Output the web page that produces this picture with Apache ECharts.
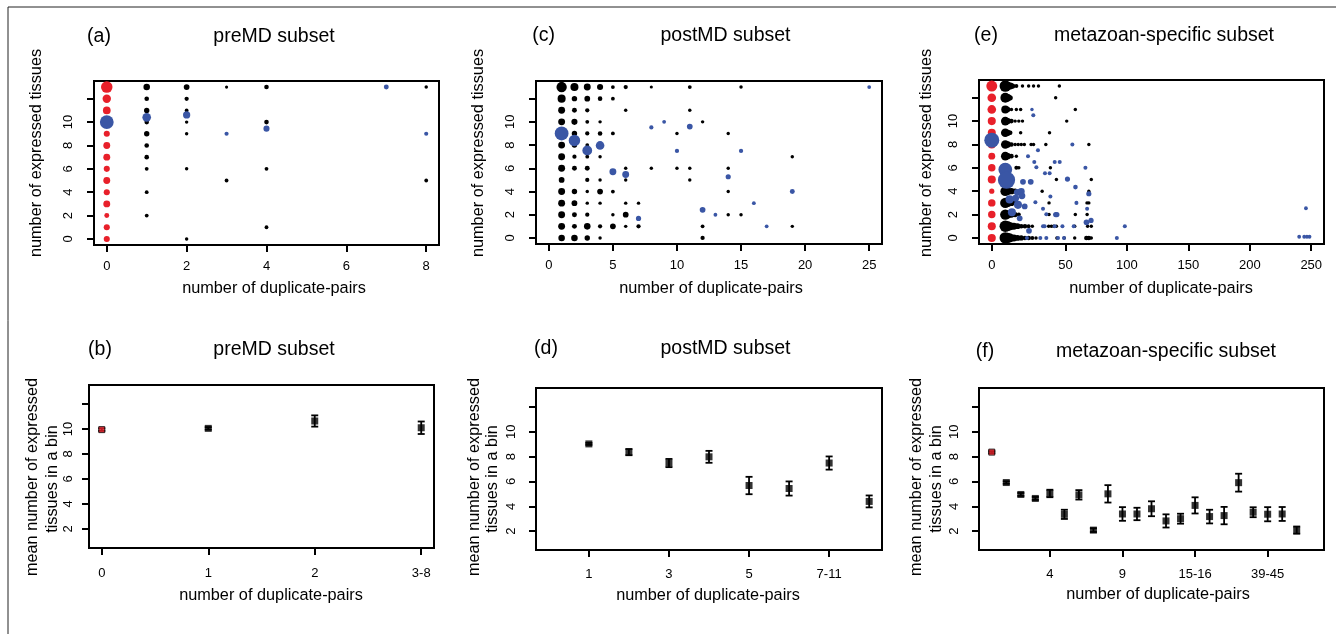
<!DOCTYPE html>
<html>
<head>
<meta charset="utf-8">
<title>number of duplicate-pairs vs expressed tissues</title>
<script src="https://cdn.jsdelivr.net/npm/echarts@6/dist/echarts.min.js"></script>
<style>
html, body { margin: 0; padding: 0; background: #fff; }
#el { width: 1336px; height: 634px; }
</style>
</head>
<body>
<div id="el"></div>
<script>
// ---------- data ----------
// top row: [duplicate-pairs, expressed tissues, dot weight]
// (a) preMD subset
const aRed = [[0,0,5.3],[0,1,5.3],[0,2,4.3],[0,3,6],[0,4,5.3],[0,5,6],[0,6,5.3],[0,7,6],[0,8,6],[0,9,5.3],[0,10,7],[0,11,6.7],[0,12,7.3],[0,13,10]];
const aBlack = [
    [1,13,5.7],[1,12,4],[1,11,4.7],[1,10,4],[1,9,4.7],[1,8,4],[1,7,4],[1,6,3.3],[1,4,3.3],[1,2,3.3],
    [2,13,5],[2,12,3.7],[2,11,3.3],[2,10,3],[2,9,3],[2,6,3],[2,0,3],
    [3,13,2.7],[3,5,3.3],
    [4,13,4],[4,10,4],[4,6,3.3],[4,1,3.3],
    [8,13,3],[8,5,3.3]
];
const aBlue = [[0,10,12],[1,10.41,7.5],[2,10.61,6.3],[3,9,3.6],[4,9.44,5.3],[7,13,4.3],[8,9,3.6]];

// (c) postMD subset
const cBlack = [
    [1,13,9],[1,12,7],[1,11,6],[1,10,6],[1,9,6],[1,8,6],[1,7,6],[1,6,6],[1,5,5],[1,4,6],[1,3,6],[1,2,6],[1,1,6],[1,0,5.7],
    [2,13,7],[2,12,4.7],[2,11,4.3],[2,10,5.3],[2,9,4.7],[2,8,4.7],[2,7,3.7],[2,6,4.3],[2,4,4.7],[2,3,5],[2,2,4.3],[2,1,4.3],[2,0,5.7],
    [3,13,6],[3,12,5],[3,11,3.7],[3,10,3.3],[3,9,3.7],[3,8,3.3],[3,7,3.3],[3,6,4.3],[3,5,3.7],[3,4,3],[3,3,3],[3,2,3.7],[3,1,5.7],[3,0,4.7],
    [4,13,5.3],[4,12,4],[4,10,3],[4,9,4],[4,7,3],[4,5,3],[4,4,5],[4,3,3],[4,1,3.7],[4,0,3],
    [5,13,3.3],[5,12,3.3],[5,9,3.3],[5,4,3.3],[5,2,3],[5,1,5],
    [6,13,3.7],[6,11,3],[6,6,3],[6,5,3],[6,3,3],[6,2,5],[6,1,3],
    [7,3,3],[7,1,3.7],[8,13,2.7],[8,6,3],[10,9,3],[10,6,3],
    [11,13,3.3],[11,11,3],[11,6,3],[11,5,3],[12,10,3],[12,1,3.3],[12,0,3.7],
    [14,9,3],[14,6,3],[14,4,3],[14,2,3],[15,13,3],[15,2,3],[19,7,3],[19,1,3]
];
const cBlue = [[1,9,12],[2,8.4,10],[3,7.54,8.5],[4,7.97,7.5],[5,5.7,6],[6,5.47,6],[7,1.68,4.5],[8,9.52,3.7],[9,10,3.3],
    [10,7.5,3.7],[11,9.6,5],[12,2.43,5],[13,2,3.3],[14,5.27,4.5],[15,7.5,3.7],[16,3,3.3],[17,1,3.3],[19,4,4.3],[25,13,3.3]];

// (e) metazoan-specific subset (the "0" group is drawn at x = -10, labelled 0)
const eRed = [[-10,0,7],[-10,1,7],[-10,2,6.5],[-10,3,6.5],[-10,4,4.5],[-10,5,7],[-10,6,6.5],[-10,7,6],[-10,8,7],[-10,9,7],[-10,10,7],[-10,11,7.5],[-10,12,7.5],[-10,13,9.5]];
const eBlack = [
    [1,13,10],[3,13,7.5],[5,13,6],[7,13,4.5],[10,13,3.5],[15,13,3],[20,13,3],[24,13,3],[28,13,3],[45,13,3],
    [1,12,8.5],[3,12,6.5],[5,12,4.5],[42,12,3],
    [1,11,7],[3,11,4.5],[6,11,3],[10,11,3],[13.5,11,3],[58,11,3],
    [1,10,7.5],[3,10,5.5],[6,10,4],[9,10,3],[12,10,3],[15,10,3],[51,10,3],
    [1,9,7.5],[3,9,5.5],[5,9,4],[13.5,9,3],[37,9,3],
    [1,8,7.5],[3,8,5.5],[6,8,4],[9,8,3],[11.5,8,3],[14,8,3],[16.5,8,3],[22,8,3],[24,8,3],[34,8,3],[69,8,3],
    [1,7,7.5],[3,7,5.5],[6,7,4],[10,7,3],
    [1,6,8],[10,6,3.5],[12,6,3],[37.7,6,3],
    [1,5,8],[4,5,5],[42.6,5,3],[71,5,3],
    [1,4,8.5],[3,4,6.5],[6,4,5.5],[9,4,4.5],[12,4,3.5],[31,4,3],[69,4,3],
    [1,3,9],[3,3,7],[6,3,5.5],[9,3,4],[36.6,3,3],[67.5,3,3],[69,3,3],
    [1,2,9],[3,2,7],[6,2,5.5],[9,2,4.5],[12,2,3.5],[36.6,2,3],[58,2,3],[67.6,2,3],
    [1,1,10],[3,1,8.5],[5,1,7],[8,1,6],[11,1,5],[14,1,4],[17,1,4],[20,1,3.5],[23,1,3],[36.3,1,3],[38.5,1,3],[40.4,1,3],[42.6,1,3],[57.5,1,3],[68,1,3],[71,1,3],
    [1,0,10],[3,0,9],[5,0,7.5],[8,0,6],[11,0,5],[14,0,4.5],[17,0,4],[20,0,4],[23,0,3.5],[26,0,3],[43,0,3],[49,0,3],[57.5,0,3],[67,0,4],[69,0,4],[71,0,3]
];
const eBlue = [
    [-10,8.37,13],[1,5.85,12],[2,4.95,15],
    [22.7,11,3],[23.8,10.5,3.5],[55.6,8,3.5],[27.6,7.5,3.5],[19.5,7,3.5],
    [24.6,6.5,3.5],[41.2,6.5,3.5],[45.3,6.5,3.5],[26.3,6.05,3.5],[66.2,6,3.5],[33.3,5.53,3.5],[37.1,5.53,3.5],
    [15.4,4.8,5],[21.7,4.8,5],[51.6,5.04,4.5],[58.1,4.35,4],[69,3.78,4.5],
    [10.8,3.9,6],[14,3.98,6],[9.4,3.4,6],[4.5,3.3,7],[11.3,2.83,7],[14.5,3.6,6],[6.4,2.2,7],[12.7,1.68,5],[16.8,2.7,5],
    [25.5,3.05,3.5],[31.7,2.5,3.5],[37.7,3.55,3.5],[34.4,2.03,3.5],[42,2,4.5],[43,2,4.5],[58.9,3,3.5],[67.6,2.5,3.5],
    [20.3,0.61,5],[31.7,1,3.5],[33,1,3.5],[41.2,1,3.5],[47.5,1,3.5],[56.7,1,3.5],[67.1,1.34,5],[70.8,1.5,4.5],[98.3,1,3.5],
    [18.6,0,3.5],[29.5,0,3.5],[34.4,0,3.5],[43.9,0,3.5],[48.8,0,3.5],[91.8,0,3.5],
    [245.7,2.54,3.3],[240.2,0.1,3.3],[244.3,0.1,3.3],[246.5,0.1,3.3],[248.6,0.1,3.3]
];

// bottom row: bin position, mean number of expressed tissues, error half-width
const bPos = [0, 1, 2, 3];
const bTickLabels = ['0', '1', '2', '3-8'];
const bMean = [9.95, 10.05, 10.64, 10.1];
const bErr = [0.1, 0.1, 0.45, 0.5];

const dPos = [1, 2, 3, 4, 5, 6, 7, 8];
const dTicks = [1, 3, 5, 7];
const dTickLabels = ['1', '3', '5', '7-11'];
const dMean = [9.02, 8.36, 7.48, 7.98, 5.67, 5.43, 7.48, 4.39];
const dErr = [0.08, 0.25, 0.33, 0.48, 0.7, 0.57, 0.53, 0.48];

const fPos = [0,1,2,3,4,5,6,7,8,9,10,11,12,13,14,15,16,17,18,19,20,21];
const fTicks = [4, 9, 14, 19];
const fTickLabels = ['4', '9', '15-16', '39-45'];
const fMean = [8.36,5.91,4.95,4.63,5.03,3.35,4.92,2.08,5.0,3.38,3.38,3.8,2.82,3.0,4.07,3.17,3.25,5.9,3.52,3.36,3.38,2.08];
const fErr = [0.08,0.1,0.12,0.12,0.3,0.37,0.38,0.15,0.7,0.55,0.5,0.6,0.53,0.4,0.65,0.55,0.7,0.72,0.4,0.57,0.56,0.29];

// ---------- style ----------
const FONT = '"Liberation Sans", Arial, Helvetica, sans-serif';
const RED = '#e8202a';
const BLUE = '#3a56a5';
const DOT_SCALE = 1.15;

const topY = {y: [-0.52, 13.52], yt: [0,2,4,6,8,10,12], yl: [0,2,4,6,8,10]};
const botY = {y: [0.48, 13.52], yt: [2,4,6,8,10,12], yl: [2,4,6,8,10]};

const panels = [
    Object.assign({grid: {left: 94, top: 81, width: 345, height: 164}, x: [-0.32, 8.32], xt: [0,2,4,6,8], xm: 15, ym: 19}, topY),
    Object.assign({grid: {left: 536, top: 81, width: 346, height: 163}, x: [-1, 26], xt: [0,5,10,15,20,25], xm: 15, ym: 19}, topY),
    Object.assign({grid: {left: 979, top: 80, width: 345, height: 164}, x: [-20.4, 260.4], xt: [-10,50,100,150,200,250],
        xf: v => (v === -10 ? '0' : String(v)), xm: 15, ym: 19}, topY),
    Object.assign({grid: {left: 89, top: 385, width: 345, height: 163}, x: [-0.12, 3.12], xt: bPos,
        xf: v => bTickLabels[bPos.indexOf(v)], xm: 19, ym: 14}, botY),
    Object.assign({grid: {left: 536, top: 388, width: 346, height: 162}, x: [-0.32, 8.32], xt: dTicks,
        xf: v => dTickLabels[dTicks.indexOf(v)], xm: 18, ym: 18}, botY),
    Object.assign({grid: {left: 979, top: 388, width: 345, height: 162}, x: [-0.88, 22.88], xt: fTicks,
        xf: v => fTickLabels[fTicks.indexOf(v)], xm: 18, ym: 18}, botY)
];

function axisPair(p, gi) {
    let label = {fontSize: 13, color: '#000', fontFamily: FONT};
    let tick = {length: 7, lineStyle: {color: '#000', width: 2}};
    return {
        x: {
            gridIndex: gi, type: 'value', min: p.x[0], max: p.x[1], position: 'bottom',
            splitLine: {show: false}, axisLine: {show: false, onZero: false},
            axisTick: Object.assign({customValues: p.xt}, tick),
            axisLabel: Object.assign({customValues: p.xt, margin: p.xm, formatter: p.xf}, label)
        },
        y: {
            gridIndex: gi, type: 'value', min: p.y[0], max: p.y[1], position: 'left',
            splitLine: {show: false}, axisLine: {show: false, onZero: false},
            axisTick: Object.assign({customValues: p.yt}, tick),
            axisLabel: Object.assign({customValues: p.yl, margin: p.ym, rotate: 90}, label)
        }
    };
}

function dots(data, color, gi, z) {
    return {
        type: 'scatter', xAxisIndex: gi, yAxisIndex: gi, data: data, symbol: 'circle',
        symbolSize: d => d[2] * DOT_SCALE, itemStyle: {color: color, opacity: 1}, z: z, silent: true
    };
}

function errBars(pos, mean, err, gi) {
    return {
        type: 'custom', xAxisIndex: gi, yAxisIndex: gi, silent: true, z: 3,
        data: pos.map((p, i) => [p, mean[i] - err[i], mean[i] + err[i]]),
        encode: {x: 0, y: [1, 2]},
        renderItem(params, api) {
            let lo = api.coord([api.value(0), api.value(1)]);
            let hi = api.coord([api.value(0), api.value(2)]);
            let w = 3.5;
            let st = {stroke: '#000', lineWidth: 1.8};
            return {type: 'group', children: [
                {type: 'line', shape: {x1: lo[0], y1: lo[1], x2: hi[0], y2: hi[1]}, style: st},
                {type: 'line', shape: {x1: lo[0] - w, y1: lo[1], x2: lo[0] + w, y2: lo[1]}, style: st},
                {type: 'line', shape: {x1: hi[0] - w, y1: hi[1], x2: hi[0] + w, y2: hi[1]}, style: st}
            ]};
        }
    };
}

function squares(pos, mean, gi, firstRed) {
    let out = [{
        type: 'scatter', xAxisIndex: gi, yAxisIndex: gi, symbol: 'rect', symbolSize: 7, z: 4, silent: true,
        itemStyle: {color: '#000'},
        data: pos.map((p, i) => [p, mean[i]]).slice(firstRed ? 1 : 0)
    }];
    if (firstRed) {
        out.push({
            type: 'scatter', xAxisIndex: gi, yAxisIndex: gi, symbol: 'rect', symbolSize: 6, z: 5, silent: true,
            itemStyle: {color: RED, borderColor: '#000', borderWidth: 1},
            data: [[pos[0], mean[0]]]
        });
    }
    return out;
}

// ---------- texts ----------
const TITLE = 19.5, LAB = 16.3;
const texts = [
    ['(a)', 99, 37, TITLE, 0], ['preMD subset', 274, 37, TITLE, 0],
    ['(c)', 543.5, 36, TITLE, 0], ['postMD subset', 725.5, 36, TITLE, 0],
    ['(e)', 986, 36, TITLE, 0], ['metazoan-specific subset', 1164, 36, TITLE, 0],
    ['(b)', 100, 350, TITLE, 0], ['preMD subset', 274, 350, TITLE, 0],
    ['(d)', 546, 349, TITLE, 0], ['postMD subset', 725.5, 349, TITLE, 0],
    ['(f)', 985, 352, TITLE, 0], ['metazoan-specific subset', 1166, 352, TITLE, 0],
    ['number of duplicate-pairs', 274, 289, LAB, 0],
    ['number of duplicate-pairs', 711, 289, LAB, 0],
    ['number of duplicate-pairs', 1161, 289, LAB, 0],
    ['number of duplicate-pairs', 271, 596, LAB, 0],
    ['number of duplicate-pairs', 708, 596, LAB, 0],
    ['number of duplicate-pairs', 1158, 595, LAB, 0],
    ['number of expressed tissues', 37, 153, LAB, 1],
    ['number of expressed tissues', 479, 153, LAB, 1],
    ['number of expressed tissues', 927, 153, LAB, 1],
    ['mean number of expressed', 33, 477, LAB, 1], ['tissues in a bin', 53, 479, LAB, 1],
    ['mean number of expressed', 475, 477, LAB, 1], ['tissues in a bin', 493, 479, LAB, 1],
    ['mean number of expressed', 917, 477, LAB, 1], ['tissues in a bin', 937, 479, LAB, 1]
];

let graphics = texts.map(t => ({
    type: 'text', x: t[1], y: t[2], rotation: t[4] ? Math.PI / 2 : 0, silent: true,
    style: {text: t[0], fontSize: t[3], fontFamily: FONT, fill: '#000', align: 'center', verticalAlign: 'middle'}
}));
graphics.push({type: 'line', silent: true, shape: {x1: 8, y1: 7, x2: 1336, y2: 7}, style: {stroke: '#222', lineWidth: 1}});
graphics.push({type: 'line', silent: true, shape: {x1: 8, y1: 7, x2: 8, y2: 634}, style: {stroke: '#222', lineWidth: 1}});

// ---------- chart ----------
let xAxes = [], yAxes = [];
panels.forEach((p, i) => {
    let ax = axisPair(p, i);
    xAxes.push(ax.x);
    yAxes.push(ax.y);
});

let series = [
    dots(aBlack, '#000', 0, 2), dots(aRed, RED, 0, 2), dots(aBlue, BLUE, 0, 3),
    dots(cBlack, '#000', 1, 2), dots(cBlue, BLUE, 1, 3),
    dots(eBlack, '#000', 2, 2), dots(eRed, RED, 2, 2), dots(eBlue, BLUE, 2, 3),
    errBars(bPos, bMean, bErr, 3), errBars(dPos, dMean, dErr, 4), errBars(fPos, fMean, fErr, 5)
].concat(squares(bPos, bMean, 3, true), squares(dPos, dMean, 4, false), squares(fPos, fMean, 5, true));

let myChart = echarts.init(document.getElementById('el'), null, {renderer: 'canvas'});
myChart.setOption({
    backgroundColor: '#fff',
    animation: false,
    grid: panels.map(p => Object.assign({show: true, borderColor: '#000', borderWidth: 2, backgroundColor: 'transparent'}, p.grid)),
    xAxis: xAxes,
    yAxis: yAxes,
    series: series,
    graphic: graphics
});
</script>
</body>
</html>
